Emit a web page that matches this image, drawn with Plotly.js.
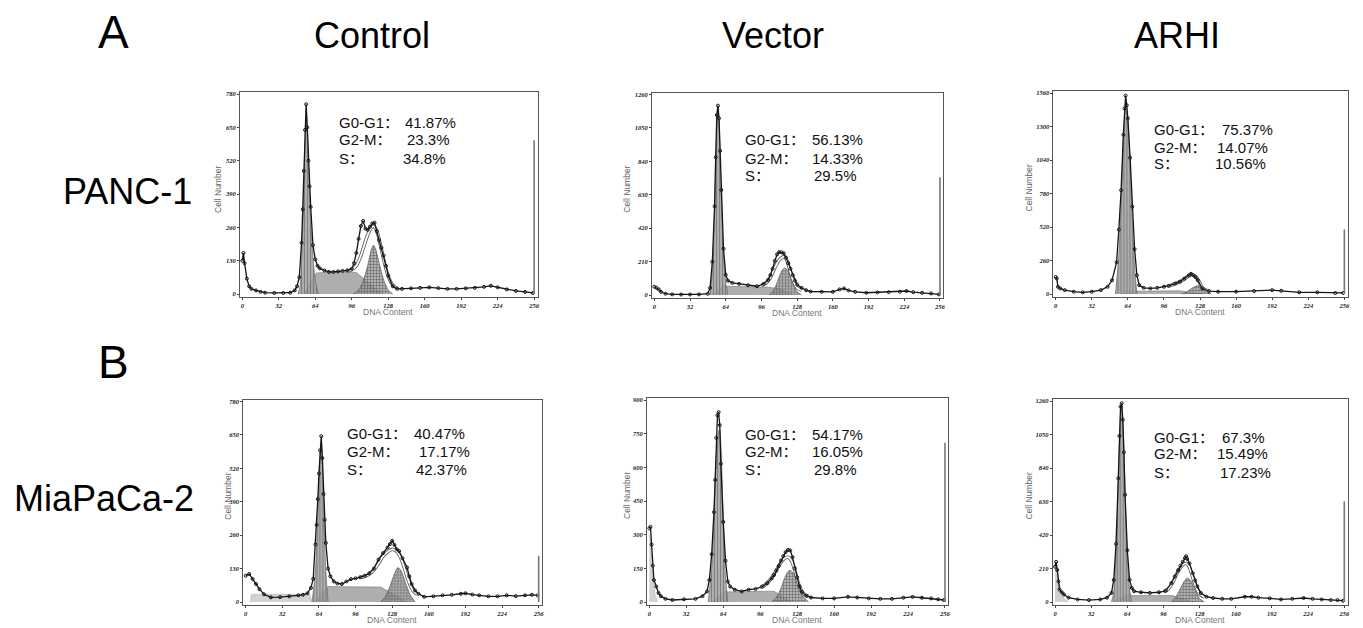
<!DOCTYPE html>
<html><head><meta charset="utf-8">
<script src="https://cdn.plot.ly/plotly-3.0.1.min.js"></script>
<style>html,body{margin:0;padding:0;background:#fff}#chart{width:1363px;height:628px}</style>
</head><body><div id="chart"></div>
<script>
// ---------- labels ----------
const columnTitles = ['Control', 'Vector', 'ARHI'];
const rowTitles = ['PANC-1', 'MiaPaCa-2'];
const rowLetters = ['A', 'B'];
const phaseLabels = ['G0-G1：', 'G2-M：', 'S：'];
const xTicks = [0, 32, 64, 96, 128, 160, 192, 224, 256];

// ---------- percentages ----------
const p1Pct = ['41.87%', '23.3%', '34.8%'];
const p2Pct = ['56.13%', '14.33%', '29.5%'];
const p3Pct = ['75.37%', '14.07%', '10.56%'];
const p4Pct = ['40.47%', '17.17%', '42.37%'];
const p5Pct = ['54.17%', '16.05%', '29.8%'];
const p6Pct = ['67.3%', '15.49%', '17.23%'];

// ---------- y tick values ----------
const p1YTicks = [0, 130, 260, 390, 520, 650, 780];
const p2YTicks = [0, 210, 420, 630, 840, 1050, 1260];
const p3YTicks = [0, 260, 520, 780, 1040, 1300, 1560];
const p4YTicks = [0, 130, 260, 390, 520, 650, 780];
const p5YTicks = [0, 150, 300, 450, 600, 750, 900];
const p6YTicks = [0, 210, 420, 630, 840, 1050, 1260];

// ---------- Panel 1: PANC-1 Control ----------
const p1RawX = [0,1,2,4,6,8,12,16,20,28,36,42,46,48,50,52,53,54,55,56,57,58,59,60,62,64,66,68,72,76,80,84,88,92,96,98,100,102,104,106,108,110,112,114,116,118,120,122,124,126,128,132,136,140,148,156,164,172,180,188,196,204,212,218,224,232,240,248,255];
const p1RawY = [130,160,120,60,30,20,14,8,5,4,4,5,14,30,65,200,330,480,640,740,650,520,420,340,190,135,110,100,92,86,86,88,90,92,98,120,160,215,265,285,255,250,262,275,278,245,210,180,150,110,72,30,20,20,22,24,26,23,20,20,22,24,28,32,26,18,12,8,4];
const p1G1X = [49,51,53,55,56,57,59,61,63,65,67];
const p1G1Y = [0,40,260,600,720,640,380,200,90,30,0];
const p1SX = [54,65,80,100,123];
const p1SY = [0,82,86,84,0];
const p1G2X = [97,102,106,110,113,115,117,120,124,128,132];
const p1G2Y = [0,15,50,110,170,190,175,120,55,15,0];
const p1FitX = [92,96,100,104,108,112,115,118,121,124,128,132,136];
const p1FitY = [90,95,110,150,205,250,265,245,195,135,70,35,22];
const p1Overflow = 600;

// ---------- Panel 2: PANC-1 Vector ----------
const p2RawX = [0,2,4,6,10,16,24,32,40,48,50,52,54,55,56,57,58,59,60,62,64,66,70,76,84,92,98,102,104,106,108,110,112,114,116,118,120,122,124,126,128,132,136,140,150,160,166,170,174,180,190,200,210,220,226,232,240,248,255];
const p2RawY = [52,45,35,20,8,4,3,3,4,8,45,209,557,865,1131,1190,1110,906,660,291,127,90,76,70,61,55,70,95,125,165,215,255,270,268,262,235,200,165,125,90,65,45,30,22,20,20,35,41,29,20,14,16,18,20,25,18,14,10,4];
const p2G1X = [50,52,54,56,57,58,60,62,64,66];
const p2G1Y = [0,150,520,1050,1170,1080,620,250,80,0];
const p2SX = [52,62,100,112,124];
const p2SY = [0,55,50,40,0];
const p2G2X = [103,106,109,112,115,117,119,122,125,128,132];
const p2G2Y = [0,20,60,115,160,170,160,115,60,20,0];
const p2FitX = [96,100,104,108,112,116,118,120,124,128,132];
const p2FitY = [60,75,110,170,220,240,230,190,100,45,30];
const p2Overflow = 740;

// ---------- Panel 3: PANC-1 ARHI ----------
const p3RawX = [0,1,2,4,8,16,24,32,40,46,50,54,56,58,60,61,62,63,64,66,68,70,72,74,78,84,90,96,100,106,110,114,118,120,122,124,126,130,136,144,160,176,192,200,216,232,248,255];
const p3RawY = [132,120,56,43,30,18,13,18,30,56,107,246,500,805,1236,1440,1540,1465,1363,1058,678,348,145,69,48,43,48,56,63,81,94,119,145,157,145,132,107,43,23,18,18,23,30,25,13,13,8,8];
const p3G1X = [53,56,58,60,62,64,66,68,70,72];
const p3G1Y = [0,300,700,1200,1480,1350,1000,550,200,0];
const p3SX = [58,68,110,130];
const p3SY = [0,22,25,0];
const p3G2X = [112,116,120,124,127,130,134,138];
const p3G2Y = [0,15,40,60,65,55,25,0];
const p3FitX = [100,106,110,114,118,121,124,127,130,134];
const p3FitY = [60,80,95,115,140,150,135,100,50,28];
const p3Overflow = 500;

// ---------- Panel 4: MiaPaCa-2 Control ----------
const p4RawX = [0,3,6,9,12,16,22,30,38,46,50,54,57,59,61,62,63,64,65,66,67,68,69,70,72,74,77,80,84,88,92,96,100,104,108,112,116,120,124,126,128,130,132,134,137,141,143,145,148,151,156,164,172,180,188,192,198,204,212,220,228,236,244,250,255];
const p4RawY = [102,109,90,70,50,30,18,19,22,26,28,34,55,90,224,300,400,500,590,645,560,420,320,230,130,100,80,72,70,80,89,92,96,102,112,130,165,190,212,225,238,222,205,198,170,134,100,70,45,32,20,22,26,28,32,34,29,26,22,22,26,23,26,28,26];
const p4G1X = [58,61,63,64,65,66,67,68,70,72];
const p4G1Y = [0,120,350,480,580,620,540,380,120,0];
const p4SX = [60,72,118,141];
const p4SY = [0,60,58,0];
const p4G2X = [118,122,126,130,133,136,140,144,148];
const p4G2Y = [0,20,60,110,134,120,70,25,0];
const p4FitX = [100,104,110,116,120,124,128,131,134,138,142,146,150];
const p4FitY = [96,100,115,150,178,195,205,200,185,140,85,45,30];
const p4DebrisX = [4,5,56,58];
const p4DebrisY = [0,30,30,0];
const p4Overflow = 180;

// ---------- Panel 5: MiaPaCa-2 Vector ----------
const p5RawX = [0,1,2,3,4,6,8,10,14,20,30,40,46,50,52,54,56,57,58,59,60,61,62,64,66,68,70,74,80,86,92,98,102,106,108,110,112,114,116,118,120,122,124,126,128,130,132,136,140,150,160,172,180,190,200,210,220,228,236,244,250,255];
const p5RawY = [328,335,256,162,98,69,40,26,14,9,12,14,26,47,98,213,400,544,731,832,846,788,616,357,184,91,69,55,47,55,58,69,83,105,120,140,160,185,205,222,232,230,200,150,110,70,45,28,20,16,16,23,20,16,14,14,19,23,19,16,12,9];
const p5G1X = [51,54,56,58,60,61,62,64,66,68];
const p5G1Y = [0,150,400,650,760,770,700,380,110,0];
const p5SX = [55,64,108,123];
const p5SY = [0,45,48,0];
const p5G2X = [106,110,114,117,120,122,125,129,133,138];
const p5G2Y = [0,20,60,105,135,141,125,75,25,0];
const p5FitX = [96,100,104,108,112,116,120,123,126,130,134,138];
const p5FitY = [65,75,95,125,160,190,200,185,140,70,35,25];
const p5DebrisX = [0,1,3,5,7];
const p5DebrisY = [300,280,120,30,0];
const p5Overflow = 710;

// ---------- Panel 6: MiaPaCa-2 ARHI ----------
const p6RawX = [0,1,2,3,4,6,8,12,20,30,40,46,50,52,54,56,57,58,59,60,61,62,64,66,68,70,76,84,92,98,103,106,109,111,113,115,116,117,119,122,124,126,129,134,140,148,156,168,174,180,190,200,210,220,228,236,244,250,255];
const p6RawY = [221,252,201,129,78,61,47,27,16,12,16,27,57,139,365,775,1041,1225,1246,1143,938,672,324,139,88,68,61,57,61,70,119,160,200,228,252,275,287,270,242,180,135,98,57,33,25,20,20,33,33,27,23,16,20,25,20,16,12,12,8];
const p6G1X = [50,52,54,56,58,59,60,62,64,66,68];
const p6G1Y = [0,60,300,750,1180,1230,1150,700,280,80,0];
const p6SX = [52,62,104,122];
const p6SY = [0,40,40,0];
const p6G2X = [103,106,110,114,117,120,124,128,132];
const p6G2Y = [0,20,70,125,150,135,75,20,0];
const p6FitX = [96,100,104,108,112,116,118,120,124,128,132];
const p6FitY = [65,80,120,180,225,242,230,195,110,50,32];
const p6DebrisX = [0,1,3,5,8,12];
const p6DebrisY = [200,240,170,70,20,0];
const p6Overflow = 630;

// ---------- assemble ----------
const panels = [
  {rawX:p1RawX, rawY:p1RawY, g1X:p1G1X, g1Y:p1G1Y, sX:p1SX, sY:p1SY, g2X:p1G2X, g2Y:p1G2Y, fitX:p1FitX, fitY:p1FitY, ov:p1Overflow, yTicks:p1YTicks, pct:p1Pct},
  {rawX:p2RawX, rawY:p2RawY, g1X:p2G1X, g1Y:p2G1Y, sX:p2SX, sY:p2SY, g2X:p2G2X, g2Y:p2G2Y, fitX:p2FitX, fitY:p2FitY, ov:p2Overflow, yTicks:p2YTicks, pct:p2Pct},
  {rawX:p3RawX, rawY:p3RawY, g1X:p3G1X, g1Y:p3G1Y, sX:p3SX, sY:p3SY, g2X:p3G2X, g2Y:p3G2Y, fitX:p3FitX, fitY:p3FitY, ov:p3Overflow, yTicks:p3YTicks, pct:p3Pct},
  {rawX:p4RawX, rawY:p4RawY, g1X:p4G1X, g1Y:p4G1Y, sX:p4SX, sY:p4SY, g2X:p4G2X, g2Y:p4G2Y, fitX:p4FitX, fitY:p4FitY, ov:p4Overflow, yTicks:p4YTicks, pct:p4Pct, dX:p4DebrisX, dY:p4DebrisY},
  {rawX:p5RawX, rawY:p5RawY, g1X:p5G1X, g1Y:p5G1Y, sX:p5SX, sY:p5SY, g2X:p5G2X, g2Y:p5G2Y, fitX:p5FitX, fitY:p5FitY, ov:p5Overflow, yTicks:p5YTicks, pct:p5Pct, dX:p5DebrisX, dY:p5DebrisY},
  {rawX:p6RawX, rawY:p6RawY, g1X:p6G1X, g1Y:p6G1Y, sX:p6SX, sY:p6SY, g2X:p6G2X, g2Y:p6G2Y, fitX:p6FitX, fitY:p6FitY, ov:p6Overflow, yTicks:p6YTicks, pct:p6Pct, dX:p6DebrisX, dY:p6DebrisY}
];

// pixel geometry: L = px of channel 0, S = px per channel, Z = px of y=0, T = px of y=max
const W = 1363, H = 628;
const geom = [
  {L:242.3, S:1.14,   Z:294, T:94},
  {L:654.3, S:1.116,  Z:295, T:94.5},
  {L:1055.7,S:1.1275, Z:294, T:93},
  {L:245.7, S:1.1445, Z:602, T:401.5},
  {L:649.3, S:1.155,  Z:602, T:400},
  {L:1055,  S:1.13,   Z:602, T:401}
];
const statPos = [
  {lx:337,  vx:[403,405,401],    ys:[122,140,158]},
  {lx:743,  vx:[810,810,812],    ys:[140,158,176]},
  {lx:1152, vx:[1220,1215,1213], ys:[129,147,164]},
  {lx:345,  vx:[412,417,414],    ys:[433,451,469]},
  {lx:743,  vx:[810,810,812],    ys:[434,452,470]},
  {lx:1152, vx:[1220,1215,1218], ys:[437,454,472]}
];
const cellNumX = [218, 627, 1028, 228, 627, 1028];

const px = v => v / W;
const py = v => 1 - v / H;
const SANS = 'Liberation Sans, Arial, Noto Sans CJK SC, sans-serif';

const traces = [];
const layout = {
  width: W, height: H,
  margin: {l:0, r:0, t:0, b:0},
  paper_bgcolor: '#fff', plot_bgcolor: '#fff',
  showlegend: false,
  annotations: []
};

panels.forEach((p, i) => {
  const k = i === 0 ? '' : String(i + 1);
  const xa = 'x' + k, ya = 'y' + k;
  const g = geom[i];
  const ymax = p.yTicks[p.yTicks.length - 1];
  const base = {xaxis: xa, yaxis: ya, hoverinfo: 'skip', type: 'scatter'};

  if (p.dX) {
    traces.push(Object.assign({}, base, {x: p.dX, y: p.dY, mode: 'lines', fill: 'tozeroy',
      fillcolor: 'rgba(205,205,205,0.9)', line: {color: '#aaa', width: 0.5}}));
  }
  traces.push(Object.assign({}, base, {x: p.sX, y: p.sY, mode: 'lines', fill: 'tozeroy',
    fillcolor: 'rgba(120,120,120,0.6)', line: {color: '#777', width: 0.6}}));
  traces.push(Object.assign({}, base, {x: p.g1X, y: p.g1Y, mode: 'lines', fill: 'tozeroy',
    fillpattern: {shape: '|', bgcolor: 'rgba(160,160,160,0.85)', fgcolor: 'rgba(100,100,100,0.7)', size: 3, solidity: 0.3},
    line: {color: '#666', width: 0.7, shape: 'spline', smoothing: 0.6}}));
  traces.push(Object.assign({}, base, {x: p.g2X, y: p.g2Y, mode: 'lines', fill: 'tozeroy',
    fillpattern: {shape: '+', bgcolor: 'rgba(150,150,150,0.75)', fgcolor: 'rgba(70,70,70,0.8)', size: 3, solidity: 0.3},
    line: {color: '#555', width: 0.7, shape: 'spline', smoothing: 0.6}}));
  traces.push(Object.assign({}, base, {x: p.fitX, y: p.fitY, mode: 'lines',
    line: {color: '#555', width: 3.4, shape: 'spline'}}));
  traces.push(Object.assign({}, base, {x: p.fitX, y: p.fitY, mode: 'lines',
    line: {color: '#fff', width: 1.8, shape: 'spline'}}));
  traces.push(Object.assign({}, base, {x: p.rawX, y: p.rawY, mode: 'lines+markers',
    line: {color: '#151515', width: 1.3},
    marker: {symbol: 'circle-open', size: 3, color: '#151515', line: {width: 1, color: '#151515'}}}));
  traces.push(Object.assign({}, base, {x: [xTicks[xTicks.length - 1], xTicks[xTicks.length - 1]], y: [0, p.ov], mode: 'lines',
    line: {color: '#777', width: 1.6}}));

  const tickfont = {family: 'Liberation Serif, serif', size: 6.5, style: 'italic', weight: 'bold', color: '#222'};
  layout['xaxis' + k] = {
    domain: [px(g.L - 2 * g.S), px(g.L + 259 * g.S)], range: [-2, 259], anchor: ya,
    tickmode: 'array', tickvals: xTicks, ticktext: xTicks.map(String), tickfont: tickfont,
    ticks: 'outside', ticklen: 2, tickwidth: 1, tickcolor: '#444',
    showline: true, linecolor: '#555', linewidth: 1, mirror: true,
    showgrid: false, zeroline: false, fixedrange: true, automargin: false
  };
  const span = g.Z - g.T;
  const lo = -3 * ymax / span, hi = ymax + 2 * ymax / span;
  layout['yaxis' + k] = {
    domain: [py(g.Z + 3), py(g.T - 2)], range: [lo, hi], anchor: xa,
    tickmode: 'array', tickvals: p.yTicks, ticktext: p.yTicks.map(String), tickfont: tickfont,
    ticks: 'outside', ticklen: 2, tickwidth: 1, tickcolor: '#444',
    showline: true, linecolor: '#555', linewidth: 1, mirror: true,
    showgrid: false, zeroline: false, fixedrange: true, automargin: false
  };

  // stats text
  const sp = statPos[i];
  phaseLabels.forEach((lab, j) => {
    layout.annotations.push({xref: 'paper', yref: 'paper', x: px(sp.lx), y: py(sp.ys[j]),
      xanchor: 'left', yanchor: 'middle', showarrow: false, text: lab,
      font: {family: SANS, size: 15, color: '#111'}});
    layout.annotations.push({xref: 'paper', yref: 'paper', x: px(sp.vx[j]), y: py(sp.ys[j]),
      xanchor: 'left', yanchor: 'middle', showarrow: false, text: p.pct[j],
      font: {family: SANS, size: 15, color: '#111'}});
  });
  // axis titles
  layout.annotations.push({xref: 'paper', yref: 'paper', x: px(g.L + 128 * g.S), y: py(g.Z + 18),
    xanchor: 'center', yanchor: 'middle', showarrow: false, text: 'DNA Content',
    font: {family: SANS, size: 8.5, color: '#777'}});
  layout.annotations.push({xref: 'paper', yref: 'paper', x: px(cellNumX[i]), y: py((g.Z + g.T) / 2 - 5),
    xanchor: 'center', yanchor: 'middle', showarrow: false, text: 'Cell Number', textangle: -90,
    font: {family: SANS, size: 8.5, color: '#666'}});
});

// big titles
const colX = [372.5, 772.5, 1177];
columnTitles.forEach((t, j) => layout.annotations.push({xref: 'paper', yref: 'paper', x: px(colX[j]), y: py(36),
  xanchor: 'center', yanchor: 'middle', showarrow: false, text: t, font: {family: SANS, size: 36, color: '#000'}}));
const letterY = [32, 362];
rowLetters.forEach((t, j) => layout.annotations.push({xref: 'paper', yref: 'paper', x: px(113), y: py(letterY[j]),
  xanchor: 'center', yanchor: 'middle', showarrow: false, text: t, font: {family: SANS, size: 46, color: '#000'}}));
const rowX = [127.5, 104], rowY = [192, 498];
rowTitles.forEach((t, j) => layout.annotations.push({xref: 'paper', yref: 'paper', x: px(rowX[j]), y: py(rowY[j]),
  xanchor: 'center', yanchor: 'middle', showarrow: false, text: t, font: {family: SANS, size: 36, color: '#000'}}));

Plotly.newPlot('chart', traces, layout, {staticPlot: true, displayModeBar: false});
</script>
</body></html>
